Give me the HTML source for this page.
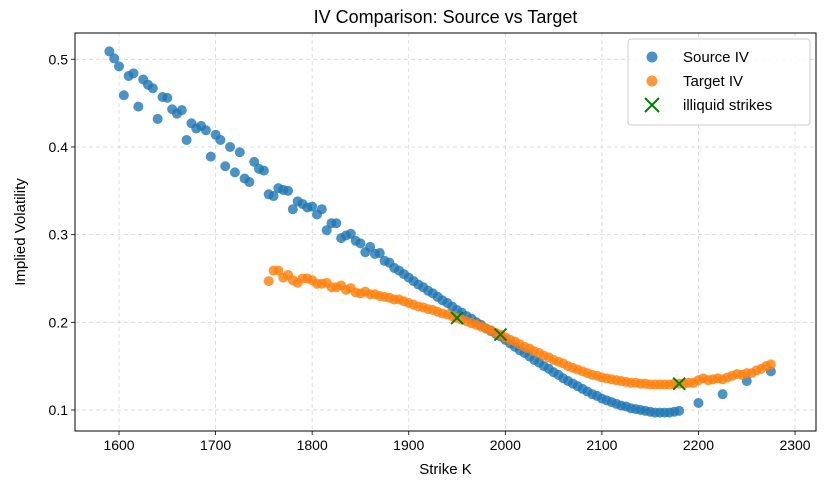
<!DOCTYPE html>
<html><head><meta charset="utf-8"><style>
body{margin:0;background:#fff;}
svg{display:block;font-family:"Liberation Sans","DejaVu Sans",sans-serif;}
</style></head><body>
<svg id="chart" width="828" height="483" viewBox="0 0 828 483"></svg>
<script>
const srcStrikes=[1590,1595,1600,1605,1610,1615,1620,1625,1630,1635,1640,1645,1650,1655,1660,1665,1670,1675,1680,1685,1690,1695,1700,1705,1710,1715,1720,1725,1730,1735,1740,1745,1750,1755,1760,1765,1770,1775,1780,1785,1790,1795,1800,1805,1810,1815,1820,1825,1830,1835,1840,1845,1850,1855,1860,1865,1870,1875,1880,1885,1890,1895,1900,1905,1910,1915,1920,1925,1930,1935,1940,1945,1950,1955,1960,1965,1970,1975,1980,1985,1990,1995,2000,2005,2010,2015,2020,2025,2030,2035,2040,2045,2050,2055,2060,2065,2070,2075,2080,2085,2090,2095,2100,2105,2110,2115,2120,2125,2130,2135,2140,2145,2150,2155,2160,2165,2170,2175,2180,2200,2225,2250,2275];
const srcIV=[0.509,0.501,0.492,0.459,0.481,0.484,0.446,0.477,0.471,0.467,0.432,0.457,0.456,0.443,0.438,0.442,0.408,0.427,0.421,0.424,0.419,0.389,0.414,0.408,0.378,0.400,0.371,0.394,0.364,0.360,0.383,0.375,0.373,0.346,0.344,0.353,0.351,0.350,0.329,0.338,0.335,0.331,0.332,0.323,0.329,0.305,0.313,0.313,0.296,0.299,0.301,0.293,0.290,0.280,0.286,0.278,0.279,0.270,0.268,0.262,0.259,0.255,0.251,0.247,0.243,0.240,0.236,0.233,0.229,0.225,0.222,0.218,0.214,0.211,0.207,0.204,0.200,0.197,0.193,0.190,0.187,0.184,0.180,0.176,0.172,0.168,0.165,0.161,0.157,0.154,0.150,0.147,0.143,0.140,0.136,0.133,0.130,0.127,0.124,0.121,0.118,0.116,0.113,0.111,0.109,0.107,0.105,0.104,0.102,0.101,0.100,0.099,0.098,0.097,0.097,0.097,0.097,0.098,0.099,0.108,0.118,0.133,0.144];
const tgtStart=1755, tgtStep=5;
const tgtIV=[0.247,0.259,0.259,0.251,0.254,0.248,0.245,0.250,0.250,0.248,0.244,0.244,0.245,0.240,0.240,0.242,0.237,0.239,0.234,0.233,0.235,0.232,0.232,0.230,0.229,0.228,0.226,0.226,0.224,0.222,0.220,0.218,0.217,0.215,0.214,0.212,0.210,0.209,0.207,0.205,0.203,0.201,0.199,0.197,0.195,0.193,0.191,0.188,0.186,0.183,0.180,0.178,0.175,0.172,0.170,0.167,0.165,0.162,0.160,0.157,0.155,0.153,0.150,0.148,0.146,0.144,0.142,0.140,0.139,0.137,0.136,0.135,0.134,0.133,0.132,0.131,0.131,0.130,0.130,0.129,0.129,0.129,0.129,0.129,0.130,0.130,0.130,0.131,0.131,0.134,0.136,0.134,0.135,0.136,0.135,0.137,0.139,0.141,0.140,0.142,0.142,0.145,0.147,0.150,0.152];
const illiqStrikes=[1950,1995,2180];
const illiqIV=[0.205,0.186,0.130];
const xTicks=[1600,1700,1800,1900,2000,2100,2200,2300];
const yTicks=[0.1,0.2,0.3,0.4,0.5];

const NS="http://www.w3.org/2000/svg";
const svg=document.getElementById('chart');
const L=75,R=816,T=33,B=431;
const xMin=1554.4,xMax=2321.7,yMin=0.076,yMax=0.530;
const xs=v=>L+(v-xMin)/(xMax-xMin)*(R-L);
const ys=v=>B-(v-yMin)/(yMax-yMin)*(B-T);
function mk(tag,attrs,parent){const e=document.createElementNS(NS,tag);for(const k in attrs)e.setAttribute(k,attrs[k]);(parent||svg).appendChild(e);return e;}

const grid=mk('g',{});


xTicks.forEach(t=>{const x=xs(t);
 mk('line',{x1:x,x2:x,y1:T,y2:B,stroke:'#b0b0b0','stroke-width':0.8,'stroke-dasharray':'4,3',opacity:0.5},grid);
 mk('line',{x1:x,x2:x,y1:B,y2:B+4,stroke:'#000','stroke-width':0.8});
 const tx=mk('text',{x:x,y:B+19,'text-anchor':'middle','font-size':14});tx.textContent=t;
 
 
});
yTicks.forEach(t=>{const y=ys(t);
 mk('line',{x1:L,x2:R,y1:y,y2:y,stroke:'#b0b0b0','stroke-width':0.8,'stroke-dasharray':'4,3',opacity:0.5},grid);
 mk('line',{x1:L-4,x2:L,y1:y,y2:y,stroke:'#000','stroke-width':0.8});
 const tx=mk('text',{x:L-7,y:y+5,'text-anchor':'end','font-size':14});tx.textContent=t.toFixed(1);
 
 
});

const sg=mk('g',{});


srcStrikes.forEach((k,i)=>{const c=mk('circle',{cx:xs(k),cy:ys(srcIV[i]),r:5,fill:'#1f77b4','fill-opacity':0.8},sg);
 
 });
const tg=mk('g',{});


tgtIV.forEach((v,i)=>{const c=mk('circle',{cx:xs(tgtStart+i*tgtStep),cy:ys(v),r:5,fill:'#ff7f0e','fill-opacity':0.8},tg);
 
 });
const ig=mk('g',{});


illiqStrikes.forEach((k,i)=>{const x=xs(k),y=ys(illiqIV[i]),d=6;
 const p=mk('path',{d:`M${x-d},${y-d}L${x+d},${y+d}M${x-d},${y+d}L${x+d},${y-d}`,stroke:'#008000','stroke-width':2},ig);
 
 });

mk('rect',{x:L,y:T,width:R-L,height:B-T,fill:'none',stroke:'#000','stroke-width':1});
const title=mk('text',{x:(L+R)/2,y:23,'text-anchor':'middle','font-size':18});title.textContent='IV Comparison: Source vs Target';


const xl=mk('text',{x:(L+R)/2,y:474,'text-anchor':'middle','font-size':15});xl.textContent='Strike K';


const yl=mk('text',{x:0,y:0,'text-anchor':'middle','font-size':15,transform:`translate(25,${(T+B)/2}) rotate(-90)`});yl.textContent='Implied Volatility';



const lg=mk('g',{});


mk('rect',{x:628,y:39,width:182,height:86,rx:3,fill:'#fff','fill-opacity':0.85,stroke:'#ccc'},lg);
const entries=[['Source IV','#1f77b4','c'],['Target IV','#ff7f0e','c'],['illiquid strikes','#008000','x']];
entries.forEach((e,i)=>{const y=57+i*24;
 const g=mk('g',{},lg);
 
 
 if(e[2]==='c')mk('circle',{cx:652,cy:y,r:5.5,fill:e[1],'fill-opacity':0.8},g);
 else mk('path',{d:`M645,${y-7}L659,${y+7}M645,${y+7}L659,${y-7}`,stroke:e[1],'stroke-width':2},g);
 const t=mk('text',{x:683,y:y+5,'font-size':15},g);t.textContent=e[0];
});
</script>
</body></html>
